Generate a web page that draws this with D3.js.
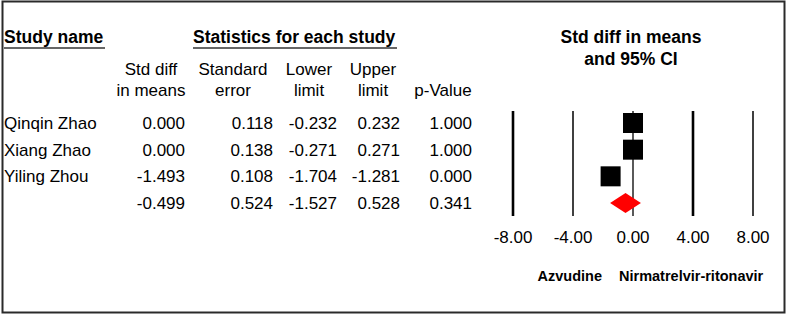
<!DOCTYPE html>
<html>
<head>
<meta charset="utf-8">
<script src="https://cdn.jsdelivr.net/npm/d3@7"></script>
<style>
  body { margin: 0; background: #fff; }
  text { font-family: "Liberation Sans", Arial, sans-serif; fill: #000; }
</style>
</head>
<body>
<div id="chart"></div>
<script>
// study rows
const studies = ["Qinqin Zhao", "Xiang Zhao", "Yiling Zhou"];
const stdDiff = [0.000, 0.000, -1.493];
const stdErr = [0.118, 0.138, 0.108];
const lowerLimit = [-0.232, -0.271, -1.704];
const upperLimit = [0.232, 0.271, -1.281];
const pValues = [1.000, 1.000, 0.000];

// pooled row
const summary = {name: "", est: -0.499, se: 0.524, lo: -1.527, hi: 0.528, p: 0.341};

const xTicks = [-8, -4, 0, 4, 8];
const leftLabel = "Azvudine";
const rightLabel = "Nirmatrelvir-ritonavir";

const W = 788, H = 316;

const svg = d3.select("#chart")
    .append("svg")
    .attr("width", W)
    .attr("height", H);

// frame
svg.append("rect")
    .attr("x", 2.5).attr("y", 1.5)
    .attr("width", 782).attr("height", 311)
    .attr("fill", "none")
    .attr("stroke", "#2a2a2a")
    .attr("stroke-width", 2);

// build rows from the arrays
const rows = studies.map((s, i) => ({
    name: s, est: stdDiff[i], se: stdErr[i], lo: lowerLimit[i], hi: upperLimit[i], p: pValues[i]
}));
const allRows = rows.concat([summary]);

// row positions
const yRow = d3.scalePoint()
    .domain(d3.range(allRows.length))
    .range([123, 203]);

// x scale for forest plot
const xScale = d3.scaleLinear()
    .domain([-8, 8])
    .range([513, 753]);

// headers
svg.append("text")
    .attr("x", 4).attr("y", 43)
    .style("font-size", "17.5px").style("font-weight", "bold")
    .text("Study name");
svg.append("line")
    .attr("x1", 4).attr("x2", 105).attr("y1", 48).attr("y2", 48)
    .attr("stroke", "#333").attr("stroke-width", 1.5);

svg.append("text")
    .attr("x", 193).attr("y", 43)
    .style("font-size", "17.5px").style("font-weight", "bold")
    .text("Statistics for each study");
svg.append("line")
    .attr("x1", 193).attr("x2", 397).attr("y1", 48).attr("y2", 48)
    .attr("stroke", "#333").attr("stroke-width", 1.5);

svg.append("text")
    .attr("x", 631).attr("y", 43)
    .attr("text-anchor", "middle")
    .style("font-size", "17.5px").style("font-weight", "bold")
    .text("Std diff in means");
svg.append("text")
    .attr("x", 631).attr("y", 65)
    .attr("text-anchor", "middle")
    .style("font-size", "17.5px").style("font-weight", "bold")
    .text("and 95% CI");

// column headers and right edges
const columns = [
    {h1: "Std diff", h2: "in means", center: 151, right: 185, key: "est"},
    {h1: "Standard", h2: "error", center: 233, right: 273, key: "se"},
    {h1: "Lower", h2: "limit", center: 309, right: 337, key: "lo"},
    {h1: "Upper", h2: "limit", center: 373, right: 400, key: "hi"},
    {h1: "", h2: "p-Value", center: 443, right: 472, key: "p"}
];

columns.forEach(c => {
    svg.append("text")
        .attr("x", c.center).attr("y", 75)
        .attr("text-anchor", "middle")
        .style("font-size", "17px")
        .text(c.h1);
    svg.append("text")
        .attr("x", c.center).attr("y", 96)
        .attr("text-anchor", "middle")
        .style("font-size", "17px")
        .text(c.h2);
});

const fmt = d3.format(".3f");
const fmtNum = v => fmt(v).replace("−", "-");

allRows.forEach((r, i) => {
    const y = yRow(i) + 6;
    svg.append("text")
        .attr("x", 4).attr("y", y)
        .style("font-size", "17px")
        .text(r.name);
    columns.forEach(c => {
        svg.append("text")
            .attr("x", c.right).attr("y", y)
            .attr("text-anchor", "end")
            .style("font-size", "17px")
            .text(fmtNum(r[c.key]));
    });
});

// vertical grid lines at tick values
const lineWidths = [2.6, 1.5, 1.3, 2.6, 1.5];
svg.selectAll(".vline")
    .data(xTicks)
    .enter().append("line")
    .attr("class", "vline")
    .attr("x1", d => xScale(d)).attr("x2", d => xScale(d))
    .attr("y1", 111).attr("y2", 216)
    .attr("stroke", "#000")
    .attr("stroke-width", (d, i) => lineWidths[i]);

// tick labels
svg.selectAll(".tick-label")
    .data(xTicks)
    .enter().append("text")
    .attr("class", "tick-label")
    .attr("x", d => xScale(d)).attr("y", 243)
    .attr("text-anchor", "middle")
    .style("font-size", "17px")
    .text(d => d3.format(".2f")(d).replace("−", "-"));

// CI whiskers and squares
svg.selectAll(".ci")
    .data(rows)
    .enter().append("line")
    .attr("class", "ci")
    .attr("x1", d => xScale(d.lo)).attr("x2", d => xScale(d.hi))
    .attr("y1", (d, i) => yRow(i)).attr("y2", (d, i) => yRow(i))
    .attr("stroke", "#000").attr("stroke-width", 1);

const sq = 20;
svg.selectAll(".box")
    .data(rows)
    .enter().append("rect")
    .attr("class", "box")
    .attr("x", d => xScale(d.est) - sq / 2)
    .attr("y", (d, i) => yRow(i) - sq / 2)
    .attr("width", sq).attr("height", sq)
    .attr("fill", "#000");

// pooled diamond
const yd = yRow(allRows.length - 1);
svg.append("path")
    .attr("d", `M${xScale(summary.lo)},${yd} L${xScale(summary.est)},${yd - 10} L${xScale(summary.hi)},${yd} L${xScale(summary.est)},${yd + 10} Z`)
    .attr("fill", "#ff0000");

// favours labels
svg.append("text")
    .attr("x", 602).attr("y", 281)
    .attr("text-anchor", "end")
    .style("font-size", "14.5px").style("font-weight", "bold")
    .text(leftLabel);
svg.append("text")
    .attr("x", 619).attr("y", 281)
    .style("font-size", "14.5px").style("font-weight", "bold")
    .text(rightLabel);
</script>
</body>
</html>
